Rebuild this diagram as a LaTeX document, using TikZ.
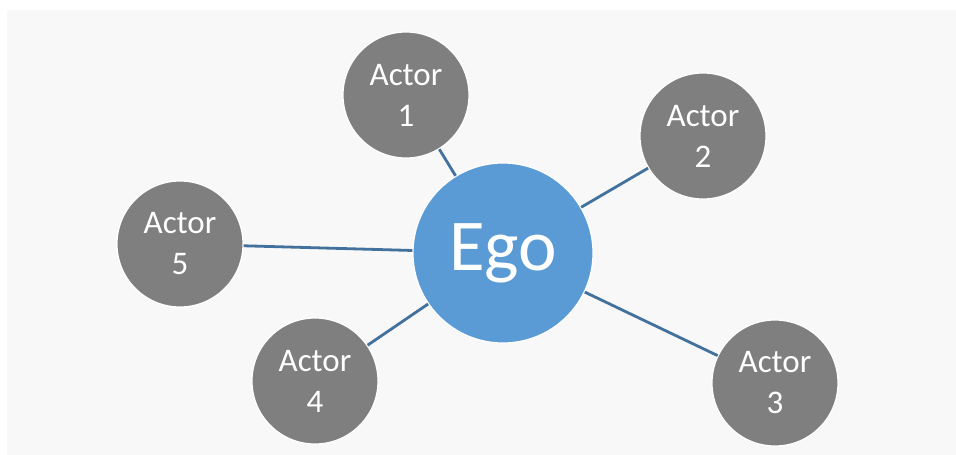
\documentclass[tikz,border=0pt]{standalone}
\usepackage{fontspec}
\setmainfont{Carlito}
\definecolor{panel}{HTML}{F8F8F8}
\definecolor{actorgray}{HTML}{7F7F7F}
\definecolor{egoblue}{HTML}{5B9BD5}
\definecolor{linkblue}{HTML}{41719C}
\begin{document}
\begin{tikzpicture}[x=1pt,y=1pt,
  actor/.style={circle,fill=actorgray,draw=white,line width=1.2pt,minimum size=126pt,inner sep=0pt,
    text=white,align=center,font=\fontsize{33}{41}\selectfont},
  ego/.style={circle,fill=egoblue,draw=white,line width=1.2pt,minimum size=180pt,inner sep=0pt,
    text=white,font=\fontsize{73}{80}\selectfont},
  link/.style={draw=linkblue,line width=2.8pt}]
\useasboundingbox (0,0) rectangle (956,-455);
\fill[panel] (7,-10) rectangle (956,-455);
\node[ego] (ego) at (503,-253) {Ego};
\node[actor] (a1) at (406,-95) {Actor\\1};
\node[actor] (a2) at (703,-136) {Actor\\2};
\node[actor] (a3) at (775,-383) {Actor\\3};
\node[actor] (a4) at (315,-381) {Actor\\4};
\node[actor] (a5) at (180,-244) {Actor\\5};
\path[link] (a1) -- (ego);
\path[link] (a2) -- (ego);
\path[link] (a3) -- (ego);
\path[link] (a4) -- (ego);
\path[link] (a5) -- (ego);
\end{tikzpicture}
\end{document}
